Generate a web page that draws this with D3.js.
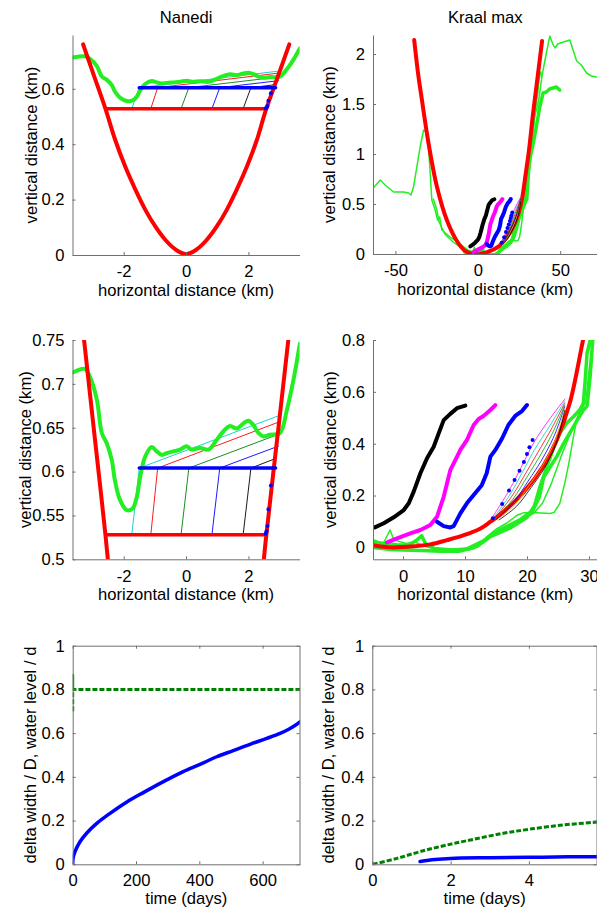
<!DOCTYPE html>
<html>
<head>
<meta charset="utf-8">
<script src="https://cdn.jsdelivr.net/npm/d3@7"></script>
<style>
  body { margin: 0; background: #fff; }
  svg text { font-family: 'Liberation Sans', Arial, sans-serif; }
</style>
</head>
<body>
<div id="chart"></div>
<script>
// ---- data ----

// Nanedi cross-section, km
const nanediBowl = [[-3.30, 0.76], [-2.93, 0.64], [-2.59, 0.53], [-2.27, 0.415], [-1.95, 0.319],
  [-1.62, 0.235], [-1.30, 0.162], [-0.98, 0.102], [-0.66, 0.054], [-0.34, 0.02], [0, 0.003],
  [0.34, 0.02], [0.66, 0.054], [0.98, 0.102], [1.30, 0.162], [1.62, 0.235], [1.95, 0.319],
  [2.27, 0.415], [2.55, 0.52], [2.93, 0.64], [3.31, 0.76]];
const nanediTopo = [[-3.63, 0.713], [-3.24, 0.717], [-3.08, 0.708], [-2.86, 0.682], [-2.70, 0.644],
  [-2.54, 0.632], [-2.38, 0.613], [-2.28, 0.590], [-2.12, 0.568], [-1.90, 0.556], [-1.71, 0.558],
  [-1.58, 0.571], [-1.47, 0.594], [-1.31, 0.617], [-1.10, 0.628], [-0.94, 0.623], [-0.78, 0.619],
  [-0.62, 0.621], [-0.41, 0.623], [-0.19, 0.625], [0.02, 0.629], [0.18, 0.625], [0.45, 0.627],
  [0.72, 0.625], [0.98, 0.636], [1.20, 0.646], [1.41, 0.652], [1.62, 0.649], [1.84, 0.655],
  [2.00, 0.658], [2.16, 0.653], [2.32, 0.644], [2.48, 0.640], [2.69, 0.642], [3.01, 0.644],
  [3.23, 0.670], [3.44, 0.704], [3.65, 0.746]];
const nanediLowLevel = [[-2.57, 0.528], [2.49, 0.528]];
const nanediHighLevel = [[-1.50, 0.604], [2.87, 0.604]];
const nanediLinkLowX = [-1.74, -1.13, -0.16, 0.83, 1.83];
const nanediLinkHighX = [-1.50, -0.91, 0.09, 1.08, 2.08];
const nanediLinkEndX = [3.07, 3.01, 3.00, 2.96, 2.88];
const nanediLinkEndY = [0.665, 0.657, 0.643, 0.629, 0.615];
const nanediLinkColors = ['#00cccc', '#ff0000', '#008000', '#0000ff', '#000000'];
const nanediEdge = [[2.55, 0.529], [2.58, 0.532], [2.61, 0.538], [2.64, 0.557], [2.72, 0.584]];

// Kraal max cross-section, km
const kraalBowl = [[-38.6, 2.14], [-36.2, 1.80], [-33.9, 1.54], [-29.9, 1.107], [-24.8, 0.673],
  [-18.8, 0.34], [-12.7, 0.13], [-8.0, 0.035], [-4.8, 0.008], [-2.0, 0.0], [0, 0.001],
  [4.4, 0.0115], [7.1, 0.028], [9.8, 0.047], [12.5, 0.073], [14.1, 0.099], [16.2, 0.137],
  [19.5, 0.214], [22.7, 0.317], [24.8, 0.414], [26.9, 0.556], [29.0, 0.794], [31.0, 1.03],
  [33.5, 1.40], [36.6, 1.81], [39.0, 2.13]];
const kraalGreenA = [[-8, 0.03], [-5, 0.02], [-3, 0.015], [-1, 0.01], [1, 0.008], [2.3, 0.03],
  [3, 0.045], [3.7, 0.012], [5, -0.004], [8, -0.01], [10.8, -0.005], [12, 0.005], [14, 0.04],
  [17.3, 0.075], [20, 0.115], [21.2, 0.16], [22.1, 0.234], [23.2, 0.311], [24.2, 0.376],
  [25.3, 0.44], [26.4, 0.479], [27.5, 0.504], [28.5, 0.53], [29.1, 0.556], [29.4, 0.646],
  [29.7, 0.749], [30.2, 0.80], [30.8, 0.86], [32.0, 0.98], [33.8, 1.12], [35.6, 1.28],
  [37.6, 1.47], [39.6, 1.61], [41.6, 1.62], [43.6, 1.65], [45.6, 1.66], [47.7, 1.67],
  [49.7, 1.64]];
const kraalGreenB = [[-8, 0.02], [-5, 0.0], [-2, -0.008], [0, -0.01], [3, -0.012], [6, -0.015],
  [9, -0.015], [11.3, -0.002], [12.9, 0.022], [14.5, 0.054], [16.7, 0.08], [18.8, 0.105],
  [21, 0.144], [22.0, 0.195], [22.7, 0.27], [24.8, 0.35], [25.9, 0.40], [28.1, 0.49],
  [29.1, 0.53], [29.7, 0.545], [30.2, 0.66], [30.6, 0.794], [31.2, 0.88]];
const kraalGreenC = [[-63.6, 0.657], [-59.2, 0.74], [-56.2, 0.69], [-51.1, 0.62], [-45, 0.62],
  [-42, 0.61], [-40.6, 0.59], [-39, 0.67], [-37, 0.87], [-35, 1.07], [-32.9, 1.24],
  [-31.3, 1.22], [-29.9, 1.07], [-28.9, 0.81], [-27.9, 0.54], [-25.9, 0.44], [-24.4, 0.34],
  [-23.2, 0.37], [-21.8, 0.24], [-16.8, 0.17], [-10.7, 0.10], [-6, 0.04], [-3.2, 0.015],
  [-2.1, 0.067], [-1.5, 0.03], [-0.5, 0.022], [0.6, 0.015], [1.7, 0.022], [2.5, 0.015],
  [4, 0.0], [7, -0.008], [10, -0.005], [13, 0.03], [15, 0.07], [16.7, 0.093], [18.5, 0.125],
  [19.5, 0.134], [21.6, 0.134], [23.7, 0.131], [24.4, 0.135], [25.3, 0.17], [26.1, 0.247],
  [26.8, 0.33], [27.4, 0.414], [28.0, 0.49], [28.8, 0.53], [29.4, 0.595], [29.6, 0.736],
  [30.0, 0.768], [30.7, 0.80], [31.5, 0.95], [32.5, 1.10], [34.5, 1.37], [36.6, 1.51],
  [37.5, 1.60], [38.6, 1.74], [39.5, 1.83], [41.5, 2.0], [43.7, 2.18], [45.5, 2.10],
  [46.9, 2.06], [48.5, 2.10], [51.9, 2.12], [55.9, 2.14], [57.8, 2.04], [60, 1.93],
  [62.8, 1.89], [66, 1.81], [69, 1.78], [72, 1.77]];
const kraalGreenD = [[-27, 0.55], [-25, 0.45], [-23.5, 0.32], [-20, 0.20], [-15, 0.12],
  [-10, 0.06], [-6, 0.02], [-2, 0.0], [2, -0.01], [6, -0.015], [10, -0.012], [12.4, 0.02],
  [15, 0.05], [17.7, 0.09], [19.5, 0.11], [21, 0.13], [22.5, 0.17], [24, 0.25], [25.5, 0.35],
  [27, 0.44], [28.5, 0.52], [29.5, 0.56], [30, 0.68], [30.4, 0.76], [31, 0.85], [32, 1.0],
  [33.5, 1.2], [35, 1.45], [36.5, 1.62], [37.5, 1.80], [38.3, 1.82], [38.6, 1.76]];
const kraalBlack = [[-4.56, 0.077], [-3.11, 0.093], [-1.5, 0.116], [0.11, 0.144], [0.92, 0.17],
  [1.72, 0.215], [2.8, 0.286], [3.87, 0.344], [4.95, 0.388], [5.75, 0.44], [6.56, 0.491],
  [7.63, 0.515], [8.7, 0.537], [10.05, 0.547]];
const kraalMagenta = [[-2.58, 0.019], [-0.97, 0.035], [1.18, 0.054], [2.8, 0.067], [4.4, 0.086],
  [5.48, 0.118], [6.56, 0.195], [7.63, 0.298], [8.44, 0.337], [9.25, 0.376], [10.3, 0.414],
  [11.4, 0.472], [12.2, 0.495], [13.0, 0.507], [14.1, 0.53], [14.9, 0.549]];
const kraalBlue = [[5.48, 0.099], [6.56, 0.082], [7.63, 0.077], [8.17, 0.082], [9.25, 0.131],
  [10.3, 0.17], [11.4, 0.202], [12.7, 0.24], [13.5, 0.286], [14.1, 0.35], [14.9, 0.376],
  [16.0, 0.421], [17.0, 0.472], [18.1, 0.507], [19.2, 0.526], [20.0, 0.549]];
const kraalDots = [[14.5, 0.112], [16.0, 0.167], [17.1, 0.219], [18.0, 0.26], [18.8, 0.296],
  [19.5, 0.329], [20.0, 0.36], [20.4, 0.386], [20.9, 0.414]];
const kraalBand = [
  [[14.3, 0.112], [17.1, 0.219], [19.5, 0.329], [21.0, 0.40], [23.5, 0.49], [26.1, 0.572]],
  [[14.5, 0.110], [17.3, 0.205], [19.7, 0.310], [21.3, 0.38], [23.7, 0.47], [26.1, 0.565]],
  [[14.7, 0.110], [17.5, 0.195], [19.9, 0.290], [21.6, 0.36], [23.9, 0.455], [26.1, 0.557]],
  [[14.9, 0.110], [17.7, 0.185], [20.1, 0.275], [21.9, 0.345], [24.1, 0.44], [26.1, 0.55]],
  [[15.1, 0.108], [17.9, 0.175], [20.3, 0.260], [22.2, 0.33], [24.3, 0.425], [26.1, 0.543]],
  [[15.3, 0.108], [18.1, 0.165], [20.5, 0.245], [22.5, 0.315], [24.5, 0.41], [26.1, 0.535]],
  [[15.5, 0.106], [18.3, 0.158], [20.7, 0.232], [22.8, 0.305], [24.7, 0.40], [26.1, 0.528]]
];
const kraalBandColors = ['#ff00ff', '#00cccc', '#ff0000', '#00a000', '#0000ff', '#e0c000', '#000000'];

// time series
const nanediDays = [0, 1, 7.3, 23, 44, 76, 118, 170, 223, 297, 349, 402, 455, 507, 560, 613,
  655, 681, 702, 718];
const nanediWidth = [0, 0.025, 0.058, 0.103, 0.142, 0.187, 0.233, 0.284, 0.328, 0.386, 0.424,
  0.457, 0.492, 0.52, 0.549, 0.576, 0.599, 0.617, 0.635, 0.652];
const nanediLevelDays = [0, 0, 0, 1, 718];
const nanediLevel = [0.70, 0.865, 0.80, 0.80, 0.80];
const kraalDays = [1.22, 1.6, 2, 3, 4, 5, 5.74];
const kraalWidth = [0.013, 0.022, 0.027, 0.030, 0.032, 0.034, 0.035];
const kraalLevelDays = [0.02, 0.63, 1.22, 1.9, 2.58, 3.35, 4.03, 4.88, 5.74];
const kraalLevel = [0, 0.027, 0.058, 0.088, 0.114, 0.142, 0.161, 0.18, 0.193];

// ticks
const nanediTicksX = [-2, 0, 2];
const nanediTicksY = [0, 0.2, 0.4, 0.6];
const nanediZoomTicksY = [0.5, 0.55, 0.6, 0.65, 0.7, 0.75];
const kraalTicksX = [-50, 0, 50];
const kraalTicksY = [0, 0.5, 1, 1.5, 2];
const kraalZoomTicksX = [0, 10, 20, 30];
const kraalZoomTicksY = [0, 0.2, 0.4, 0.6, 0.8];
const nanediDayTicks = [0, 200, 400, 600];
const kraalDayTicks = [0, 2, 4];
const ratioTicks = [0, 0.2, 0.4, 0.6, 0.8, 1];

const xLabel = 'horizontal distance (km)';
const yLabel = 'vertical distance (km)';
const tLabel = 'time (days)';
const rLabel = 'delta width / D, water level / d';

// ---- painter ----
const FigurePainter = {};

FigurePainter.option = {
  width: 597,
  height: 911,
  font: 16.6,
  axisColor: '#707070'
};

FigurePainter.panels = [
  {id: 'tl', box: [72.5, 35, 299.6, 255], xDomain: [-3.64, 3.64], yDomain: [0, 0.794],
    xTicks: nanediTicksX, yTicks: nanediTicksY, title: 'Nanedi', xLabel, yLabel, yGap: 36,
    draw: 'nanedi'},
  {id: 'tr', box: [373, 35, 597.6, 254], xDomain: [-63.6, 72.7], yDomain: [0, 2.19],
    xTicks: kraalTicksX, yTicks: kraalTicksY, title: 'Kraal max', xLabel, yLabel, yGap: 38,
    draw: 'kraal'},
  {id: 'ml', box: [72.5, 340, 299.6, 559.3], xDomain: [-3.64, 3.64], yDomain: [0.5, 0.75],
    xTicks: nanediTicksX, yTicks: nanediZoomTicksY, xLabel, yLabel, yGap: 41.5,
    draw: 'nanedi'},
  {id: 'mr', box: [373, 340, 597.6, 559.3], xDomain: [-4.85, 31.4], yDomain: [-0.046, 0.8],
    xTicks: kraalZoomTicksX, yTicks: kraalZoomTicksY, xLabel, yLabel, yGap: 37,
    draw: 'kraal'},
  {id: 'bl', box: [72.7, 645.7, 300, 864.3], xDomain: [0, 718], yDomain: [0, 1],
    xTicks: nanediDayTicks, yTicks: ratioTicks, xLabel: tLabel, yLabel: rLabel, yGap: 36.5,
    boxed: true, draw: 'nanediTime'},
  {id: 'br', box: [372.3, 645.7, 597, 864.3], xDomain: [0, 5.74], yDomain: [0, 1],
    xTicks: kraalDayTicks, yTicks: ratioTicks, xLabel: tLabel, yLabel: rLabel, yGap: 38,
    boxed: true, draw: 'kraalTime'}
];

FigurePainter.painting = (container) => {
  const option = FigurePainter.option;
  const svg = d3.select(container)
      .append('svg')
      .attr('width', option.width)
      .attr('height', option.height);
  FigurePainter.panels.forEach((panel) => paint.panel(svg, panel));
};

const paint = {};

paint.line = (g, data, x, y, style) => {
  g.append('path')
      .datum(data)
      .attr('fill', 'none')
      .attr('stroke', style.color)
      .attr('stroke-width', style.width)
      .attr('stroke-linejoin', 'round')
      .attr('stroke-linecap', style.dash ? 'butt' : 'round')
      .attr('stroke-dasharray', style.dash || null)
      .attr('d', d3.line()
          .x((d) => x(d[0]))
          .y((d) => y(d[1]))
          .curve(style.smooth ? d3.curveCatmullRom.alpha(0.5) : d3.curveLinear));
};

paint.dots = (g, data, x, y, color, r) => {
  g.append('g')
      .selectAll('circle')
      .data(data)
      .join('circle')
      .attr('cx', (d) => x(d[0]))
      .attr('cy', (d) => y(d[1]))
      .attr('r', r)
      .attr('fill', color);
};

paint.nanedi = (g, x, y) => {
  nanediLinkLowX.forEach((lx, i) => {
    paint.line(g, [[lx, 0.528], [nanediLinkHighX[i], 0.604],
      [nanediLinkEndX[i], nanediLinkEndY[i]]], x, y, {color: nanediLinkColors[i], width: 0.9});
  });
  paint.line(g, nanediEdge, x, y, {color: '#e0a000', width: 1});
  paint.line(g, nanediTopo, x, y, {color: '#22ee22', width: 4, smooth: true});
  paint.line(g, nanediBowl, x, y, {color: '#ff0000', width: 4, smooth: true});
  paint.line(g, nanediLowLevel, x, y, {color: '#ff0000', width: 3.5});
  paint.line(g, nanediHighLevel, x, y, {color: '#0000ff', width: 3.5});
  paint.dots(g, nanediEdge, x, y, '#0000ff', 2);
};

paint.kraal = (g, x, y) => {
  paint.line(g, kraalGreenC, x, y, {color: '#22ee22', width: 1.5});
  paint.line(g, kraalGreenD, x, y, {color: '#22ee22', width: 1.5});
  paint.line(g, kraalGreenA, x, y, {color: '#22ee22', width: 3.5});
  paint.line(g, kraalGreenB, x, y, {color: '#22ee22', width: 3.5});
  paint.line(g, kraalBowl, x, y, {color: '#ff0000', width: 4, smooth: true});
  kraalBand.forEach((band, i) => {
    paint.line(g, band, x, y, {color: kraalBandColors[i], width: 0.8, smooth: true});
  });
  paint.line(g, kraalBlack, x, y, {color: '#000000', width: 4});
  paint.line(g, kraalMagenta, x, y, {color: '#ff00ff', width: 4});
  paint.line(g, kraalBlue, x, y, {color: '#0000ff', width: 4});
  paint.dots(g, kraalDots, x, y, '#0000ff', 2);
};

paint.nanediTime = (g, x, y) => {
  paint.line(g, nanediLevelDays.map((t, i) => [t, nanediLevel[i]]), x, y,
      {color: '#008000', width: 3, dash: '5,2'});
  paint.line(g, nanediDays.map((t, i) => [t, nanediWidth[i]]), x, y,
      {color: '#0000ff', width: 3.5, smooth: true});
};

paint.kraalTime = (g, x, y) => {
  paint.line(g, kraalLevelDays.map((t, i) => [t, kraalLevel[i]]), x, y,
      {color: '#008000', width: 3, dash: '5,2', smooth: true});
  paint.line(g, kraalDays.map((t, i) => [t, kraalWidth[i]]), x, y,
      {color: '#0000ff', width: 3.5, smooth: true});
};

paint.panel = (svg, panel) => {
  const option = FigurePainter.option;
  const [left, top, right, bottom] = panel.box;
  const x = d3.scaleLinear().domain(panel.xDomain).range([left, right]);
  const y = d3.scaleLinear().domain(panel.yDomain).range([bottom, top]);

  svg.append('clipPath')
      .attr('id', `clip-${panel.id}`)
      .append('rect')
      .attr('x', left)
      .attr('y', top)
      .attr('width', right - left)
      .attr('height', bottom - top);

  const plot = svg.append('g').attr('clip-path', `url(#clip-${panel.id})`);
  paint[panel.draw](plot, x, y);

  const fmt = (d) => String(d);
  const styleAxis = (g) => {
    g.attr('font-size', option.font)
        .attr('font-family', null)
        .attr('color', option.axisColor);
    g.selectAll('text').attr('fill', '#000');
  };

  svg.append('g')
      .attr('transform', `translate(0,${bottom})`)
      .call(d3.axisBottom(x).tickValues(panel.xTicks).tickFormat(fmt)
          .tickSizeInner(-3).tickSizeOuter(0).tickPadding(panel.boxed ? 9.5 : 10.5))
      .call(styleAxis);

  svg.append('g')
      .attr('transform', `translate(${left},0)`)
      .call(d3.axisLeft(y).tickValues(panel.yTicks).tickFormat(fmt)
          .tickSizeInner(-3).tickSizeOuter(0).tickPadding(8))
      .call(styleAxis);

  if (panel.boxed) {
    svg.append('g')
        .attr('transform', `translate(0,${top})`)
        .call(d3.axisTop(x).tickValues(panel.xTicks).tickFormat('')
            .tickSizeInner(-3).tickSizeOuter(0))
        .call(styleAxis);
    svg.append('g')
        .attr('transform', `translate(${right - 0.5},0)`)
        .call(d3.axisRight(y).tickValues(panel.yTicks).tickFormat('')
            .tickSizeInner(-3).tickSizeOuter(0))
        .call(styleAxis);
  }

  const cx = (left + right) / 2;
  if (panel.title) {
    svg.append('text')
        .attr('text-anchor', 'middle')
        .attr('font-size', option.font)
        .attr('x', cx)
        .attr('y', 23)
        .text(panel.title);
  }

  svg.append('text')
      .attr('text-anchor', 'middle')
      .attr('font-size', option.font)
      .attr('x', cx)
      .attr('y', bottom + (panel.boxed ? 39.5 : 41))
      .text(panel.xLabel);

  svg.append('text')
      .attr('text-anchor', 'middle')
      .attr('font-size', option.font)
      .attr('transform', `translate(${left - panel.yGap},${(top + bottom) / 2}) rotate(-90)`)
      .text(panel.yLabel);
};

FigurePainter.painting(document.getElementById('chart'));
</script>
</body>
</html>
